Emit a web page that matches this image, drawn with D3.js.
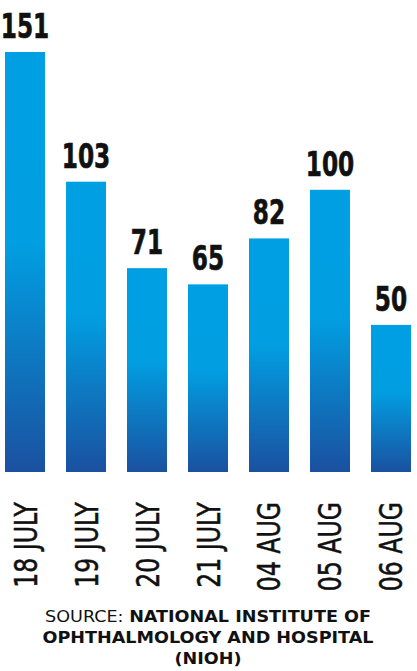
<!DOCTYPE html>
<html>
<head>
    <style type="text/css">
        body { margin: 0; background: #fff; }
        .value {
            font-family: "Liberation Sans Narrow", "DejaVu Sans Condensed", sans-serif;
            font-weight: bold;
            font-size: 34px;
            text-anchor: middle;
            fill: #111;
            stroke: #111;
            stroke-width: 0.6px;
        }
        .date {
            font-family: "Liberation Sans Narrow", "DejaVu Sans Condensed", sans-serif;
            font-size: 32px;
            text-anchor: end;
            fill: #111;
            stroke: #111;
            stroke-width: 0.5px;
        }
        .source {
            font-family: "DejaVu Sans", Verdana, sans-serif;
            font-size: 16px;
            text-anchor: middle;
            fill: #111;
        }
    </style>
    <script src="https://d3js.org/d3.v7.min.js"></script>
</head>
<body>
    <svg id="mySvg" width="417" height="671"></svg>
</body>
<script type="text/javascript">
// cases per day
const dates = ['18 JULY', '19 JULY', '20 JULY', '21 JULY', '04 AUG', '05 AUG', '06 AUG'];
const cases = [151, 103, 71, 65, 82, 100, 50];
const sourceLines = [
    ['SOURCE: ', 'NATIONAL INSTITUTE OF'],
    ['', 'OPHTHALMOLOGY AND HOSPITAL'],
    ['', '(NIOH)']
];

const data = dates.map((d, i) => ({date: d, value: cases[i]}));

const svg = d3.select('#mySvg');
const baseY = 472;   // bars run down to here

const x = d3.scaleBand()
    .domain(dates)
    .range([5, 411])
    .paddingInner(0.344)
    .paddingOuter(0);

const y = d3.scaleLinear()
    .domain([0, 151])
    .range([460, 52]);

// gradient, bright on top, dark at the foot of each bar
const grad = svg.append('defs').append('linearGradient')
    .attr('id', 'barGrad')
    .attr('x1', 0).attr('y1', 0).attr('x2', 0).attr('y2', 1);
grad.append('stop').attr('offset', '0%').attr('stop-color', '#009fe3');
grad.append('stop').attr('offset', '45%').attr('stop-color', '#019fe2');
grad.append('stop').attr('offset', '100%').attr('stop-color', '#1a51a0');

const bars = svg.append('g').selectAll('g')
    .data(data)
    .enter()
    .append('g');

bars.append('rect')
    .attr('x', d => x(d.date))
    .attr('y', d => y(d.value))
    .attr('width', x.bandwidth())
    .attr('height', d => baseY - y(d.value))
    .attr('fill', 'url(#barGrad)');

// no narrow font here, so squeeze the condensed one
bars.append('text')
    .attr('class', 'value')
    .attr('transform', d => 'translate(' + (x(d.date) + x.bandwidth() / 2) + ',' + (y(d.value) - 14) + ') scale(0.76,1)')
    .text(d => d.value);

bars.append('text')
    .attr('class', 'date')
    .attr('transform', d => 'translate(' + (x(d.date) + x.bandwidth() / 2 + 11.5) + ',502) rotate(-90) scale(0.82,1)')
    .text(d => d.date);

// source note
const src = svg.append('g')
    .attr('transform', 'translate(208,0) scale(1.1,1)')
    .selectAll('text')
    .data(sourceLines)
    .enter()
    .append('text')
    .attr('class', 'source')
    .attr('x', 0)
    .attr('y', (d, i) => 622 + i * 21);

src.append('tspan').text(d => d[0]);
src.append('tspan').attr('font-weight', 'bold').text(d => d[1]);
</script>
</html>
